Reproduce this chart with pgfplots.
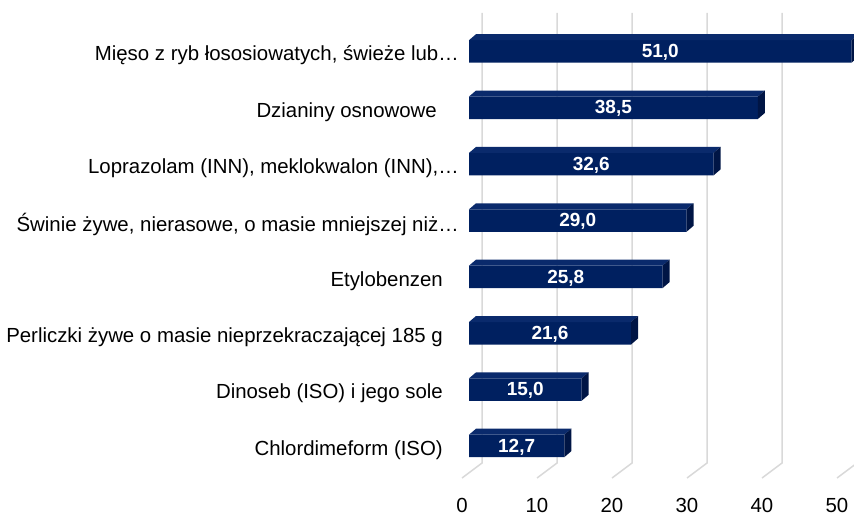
\documentclass[border=0pt]{standalone}
\usepackage{pgfplots}
\usepackage{pgfplotstable}
\pgfplotsset{compat=1.18}
\usepackage{fontspec}
\setmainfont{Liberation Sans}
\definecolor{barfront}{HTML}{002060}
\definecolor{bartop}{HTML}{0A2A6C}
\definecolor{barside}{HTML}{001545}
\definecolor{gridc}{HTML}{D9D9D9}

\pgfplotstableread{
y v
0 12.7
1 15.0
2 21.6
3 25.8
4 29.0
5 32.6
6 38.5
7 51.0
}\datatable

\pgfdeclareplotmark{bar3d}{%
  \pgfmathsetlengthmacro\barL{\barv*7.5bp}%
  \pgfsetfillcolor{bartop}%
  \pgfpathmoveto{\pgfpoint{-\barL}{11.25bp}}%
  \pgfpathlineto{\pgfpoint{0pt}{11.25bp}}%
  \pgfpathlineto{\pgfpoint{7bp}{17.25bp}}%
  \pgfpathlineto{\pgfpoint{-\barL+7bp}{17.25bp}}%
  \pgfpathclose
  \pgfusepath{fill}%
  \pgfsetfillcolor{barside}%
  \pgfpathmoveto{\pgfpoint{0pt}{-11.25bp}}%
  \pgfpathlineto{\pgfpoint{0pt}{11.25bp}}%
  \pgfpathlineto{\pgfpoint{7bp}{17.25bp}}%
  \pgfpathlineto{\pgfpoint{7bp}{-5.25bp}}%
  \pgfpathclose
  \pgfusepath{fill}%
}

\begin{document}
\begin{tikzpicture}
\begin{axis}[
  at={(462bp,39bp)}, anchor=south west,
  x=7.5bp, y=56.36bp,
  xmin=0, xmax=50, ymin=-0.568, ymax=7.417,
  clip=false,
  axis line style={draw=none},
  major tick length=0pt,
  xtick={0,10,...,50},
  ytick={0,...,7},
  yticklabels={
    Chlordimeform (ISO)\kern16bp,
    Dinoseb (ISO) i jego sole\kern16bp,
    Perliczki żywe o masie nieprzekraczającej 185 g\kern16bp,
    Etylobenzen\kern16bp,
    Świnie żywe{,} nierasowe{,} o masie mniejszej niż…,
    Loprazolam (INN){,} meklokwalon (INN){,}…,
    Dzianiny osnowowe\kern22bp,
    Mięso z ryb łososiowatych{,} świeże lub…},
  /pgf/number format/assume math mode=true,
  ticklabel style={font=\fontsize{20.4bp}{24bp}\selectfont, text=black},
  xticklabel style={inner sep=0pt, anchor=north, yshift=-20bp},
  yticklabel style={inner sep=0pt, anchor=east, xshift=-3bp, yshift=-4bp},
]
\pgfplotsinvokeforeach{0,10,...,50}{
  \draw[gridc, line width=1.5bp] (axis cs:#1,-0.568) -- ++(20bp,15bp) -- ([shift={(20bp,15bp)}]axis cs:#1,7.417);
}
\addplot[xbar, bar width=22.5bp, bar shift=0pt, fill=barfront, draw=none, xshift=7bp]
  table[x=v, y=y]{\datatable};
\addplot[only marks, mark=bar3d, xshift=7bp,
  visualization depends on={\thisrow{v} \as \barv}]
  table[x=v, y=y]{\datatable};
\addplot[draw=none, mark=none, xshift=7bp,
  point meta=explicit,
  nodes near coords={\pgfmathprintnumber[fixed, fixed zerofill, precision=1, use comma]{\pgfplotspointmeta}},
  every node near coord/.append style={anchor=center, text=white, inner sep=0pt, yshift=-1bp,
    font=\fontsize{19bp}{23bp}\selectfont\bfseries}]
  table[x expr=\thisrow{v}/2, y=y, meta=v]{\datatable};
\end{axis}
\pgfresetboundingbox
\path[use as bounding box] (0,0) rectangle (854bp,517bp);
\end{tikzpicture}
\end{document}
